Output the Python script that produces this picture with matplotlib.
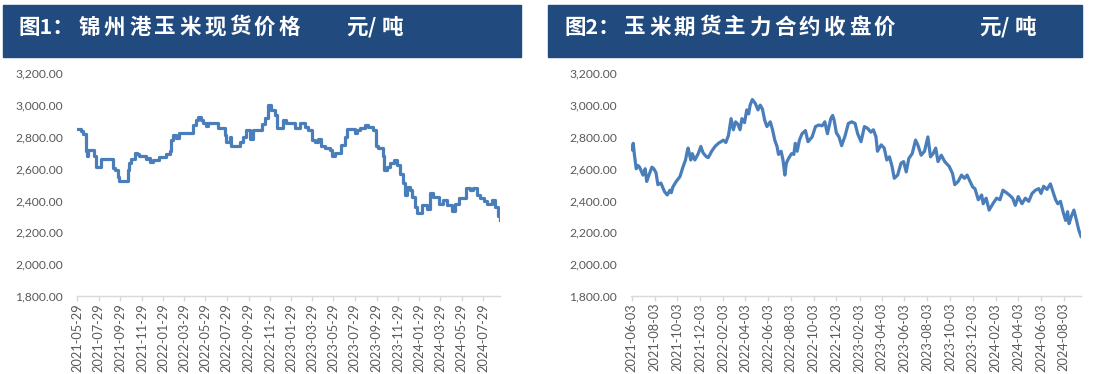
import matplotlib
matplotlib.use("Agg")
import matplotlib.pyplot as plt
import matplotlib.dates as mdates
from matplotlib.patches import Rectangle
from matplotlib.ticker import FuncFormatter, FixedLocator
import pandas as pd

W, H = 1099, 374
NAVY = "#214A7E"
LINE = "#4A7EBB"
GREY = "#595959"
AXIS = "#D9D9D9"

# 图1 锦州港玉米现货价格 (steps: price changes on these dates)
SPOT_DATES = [
    "2021-05-29", "2021-06-09", "2021-06-13", "2021-06-23", "2021-06-25", "2021-06-27",
    "2021-07-16", "2021-07-21", "2021-08-05", "2021-09-07", "2021-09-12", "2021-09-21",
    "2021-09-26", "2021-10-20", "2021-10-24", "2021-10-29", "2021-11-08", "2021-11-16",
    "2021-11-22", "2021-12-11", "2021-12-16", "2021-12-21", "2021-12-30", "2022-01-18",
    "2022-02-06", "2022-02-16", "2022-02-21", "2022-02-25", "2022-03-07", "2022-03-16",
    "2022-04-23", "2022-05-03", "2022-05-08", "2022-05-17", "2022-05-22", "2022-06-01",
    "2022-06-05", "2022-07-04", "2022-07-23", "2022-07-28", "2022-08-06", "2022-08-11",
    "2022-09-04", "2022-09-13", "2022-09-23", "2022-10-02", "2022-10-12", "2022-11-07",
    "2022-11-14", "2022-11-24", "2022-12-03", "2022-12-13", "2022-12-18", "2023-01-06",
    "2023-01-15", "2023-02-08", "2023-02-22", "2023-03-09", "2023-03-18", "2023-03-28",
    "2023-04-06", "2023-04-16", "2023-04-25", "2023-05-05", "2023-05-19", "2023-05-24",
    "2023-06-02", "2023-06-21", "2023-07-01", "2023-07-06", "2023-07-29", "2023-08-03",
    "2023-08-13", "2023-08-27", "2023-09-05", "2023-09-20", "2023-09-27", "2023-10-04",
    "2023-10-18", "2023-10-21", "2023-10-28", "2023-11-06", "2023-11-18", "2023-11-25",
    "2023-12-05", "2023-12-14", "2023-12-19", "2023-12-24", "2024-01-03", "2024-01-07",
    "2024-01-17", "2024-01-23", "2024-02-05", "2024-02-19", "2024-02-27", "2024-03-07",
    "2024-03-26", "2024-04-05", "2024-04-16", "2024-05-01", "2024-05-10", "2024-05-22",
    "2024-06-11", "2024-06-22", "2024-06-30", "2024-07-11", "2024-07-20", "2024-07-30",
    "2024-08-10", "2024-08-23", "2024-09-01", "2024-09-08", "2024-09-15",
]
SPOT_PRICE = [
    2850, 2840, 2820, 2710, 2680, 2720,
    2680, 2610, 2660, 2605, 2590, 2550,
    2525, 2590, 2635, 2660, 2700, 2690,
    2680, 2660, 2670, 2645, 2655, 2675,
    2690, 2710, 2780, 2810, 2795, 2825,
    2875, 2905, 2925, 2905, 2885, 2870,
    2885, 2855, 2810, 2770, 2800, 2740,
    2770, 2800, 2845, 2790, 2845, 2880,
    2920, 3000, 2970, 2935, 2855, 2905,
    2890, 2855, 2885, 2865, 2845, 2780,
    2770, 2790, 2740, 2730, 2720, 2680,
    2700, 2750, 2800, 2850, 2825, 2845,
    2855, 2875, 2865, 2845, 2740, 2730,
    2680, 2590, 2610, 2635, 2655, 2625,
    2570, 2510, 2435, 2485, 2465, 2425,
    2360, 2320, 2370, 2350, 2445, 2425,
    2380, 2405, 2370, 2335, 2380, 2415,
    2480, 2465, 2480, 2435, 2415, 2395,
    2380, 2405, 2360, 2300, 2275,
]

# 图2 玉米期货主力合约收盘价
FUT_DATES = [
    "2021-06-03", "2021-06-07", "2021-06-10", "2021-06-15", "2021-06-20", "2021-06-24",
    "2021-07-03", "2021-07-09", "2021-07-13", "2021-07-19", "2021-07-27", "2021-08-01",
    "2021-08-07", "2021-08-12", "2021-08-20", "2021-08-30", "2021-09-06", "2021-09-13",
    "2021-09-17", "2021-09-21", "2021-09-30", "2021-10-10", "2021-10-18", "2021-10-25",
    "2021-10-30", "2021-11-01", "2021-11-08", "2021-11-12", "2021-11-19", "2021-11-28",
    "2021-12-05", "2021-12-11", "2021-12-20", "2021-12-25", "2022-01-03", "2022-01-12",
    "2022-01-21", "2022-01-28", "2022-02-03", "2022-02-10", "2022-02-17", "2022-02-24",
    "2022-03-02", "2022-03-08", "2022-03-14", "2022-03-20", "2022-03-25", "2022-04-01",
    "2022-04-07", "2022-04-12", "2022-04-16", "2022-04-22", "2022-04-30", "2022-05-07",
    "2022-05-13", "2022-05-19", "2022-05-25", "2022-05-31", "2022-06-09", "2022-06-15",
    "2022-06-21", "2022-06-27", "2022-07-01", "2022-07-08", "2022-07-13", "2022-07-18",
    "2022-07-22", "2022-07-28", "2022-08-05", "2022-08-11", "2022-08-15", "2022-08-20",
    "2022-08-26", "2022-09-02", "2022-09-11", "2022-09-18", "2022-09-29", "2022-10-08",
    "2022-10-17", "2022-10-26", "2022-11-02", "2022-11-09", "2022-11-18", "2022-11-23",
    "2022-11-27", "2022-12-03", "2022-12-10", "2022-12-17", "2022-12-26", "2023-01-04",
    "2023-01-13", "2023-01-22", "2023-01-29", "2023-02-07", "2023-02-16", "2023-02-24",
    "2023-03-05", "2023-03-12", "2023-03-19", "2023-03-23", "2023-04-02", "2023-04-10",
    "2023-04-17", "2023-04-24", "2023-05-01", "2023-05-07", "2023-05-16", "2023-05-25",
    "2023-06-01", "2023-06-08", "2023-06-15", "2023-06-24", "2023-07-03", "2023-07-09",
    "2023-07-18", "2023-07-27", "2023-08-05", "2023-08-12", "2023-08-19", "2023-08-26",
    "2023-09-01", "2023-09-10", "2023-09-19", "2023-10-01", "2023-10-10", "2023-10-16",
    "2023-10-25", "2023-11-03", "2023-11-11", "2023-11-18", "2023-11-26", "2023-12-03",
    "2023-12-09", "2023-12-18", "2023-12-27", "2023-12-31", "2024-01-08", "2024-01-16",
    "2024-01-26", "2024-02-05", "2024-02-14", "2024-02-22", "2024-03-02", "2024-03-10",
    "2024-03-19", "2024-03-26", "2024-04-03", "2024-04-13", "2024-04-22", "2024-05-01",
    "2024-05-10", "2024-05-19", "2024-05-28", "2024-06-03", "2024-06-10", "2024-06-19",
    "2024-06-28", "2024-07-05", "2024-07-12", "2024-07-18", "2024-07-25", "2024-08-02",
    "2024-08-08", "2024-08-13", "2024-08-17", "2024-08-23", "2024-08-30", "2024-09-06",
    "2024-09-12", "2024-09-18",
]
FUT_CLOSE = [
    2720, 2760, 2690, 2600, 2620, 2610,
    2560, 2600, 2520, 2560, 2610, 2600,
    2575, 2500, 2510, 2455, 2435, 2465,
    2450, 2485, 2520, 2550, 2610, 2655,
    2715, 2730, 2655, 2695, 2655, 2695,
    2740, 2700, 2675, 2670, 2710, 2740,
    2760, 2770, 2780, 2765, 2810, 2915,
    2845, 2895, 2880, 2845, 2915, 2890,
    2970, 2945, 3000, 3035, 3010, 2970,
    3000, 2975, 2905, 2865, 2895, 2845,
    2780, 2740, 2690, 2710, 2655, 2560,
    2635, 2665, 2695, 2690, 2760, 2710,
    2780, 2820, 2840, 2770, 2800, 2865,
    2875, 2870, 2895, 2820, 2915, 2935,
    2905, 2825, 2800, 2745, 2805, 2885,
    2895, 2885, 2820, 2770, 2865, 2855,
    2830, 2845, 2800, 2710, 2750, 2730,
    2655, 2675, 2615, 2540, 2560, 2635,
    2645, 2580, 2665, 2695, 2780, 2750,
    2685, 2710, 2800, 2675, 2695, 2730,
    2645, 2685, 2645, 2615, 2570, 2500,
    2520, 2560, 2540, 2560, 2520, 2485,
    2475, 2405, 2435, 2380, 2415, 2340,
    2380, 2415, 2405, 2465, 2450, 2435,
    2415, 2370, 2425, 2380, 2415, 2395,
    2445, 2465, 2475, 2445, 2490, 2470,
    2505, 2455, 2405, 2380, 2395, 2320,
    2275, 2330, 2255, 2300, 2340, 2275,
    2215, 2175,
]

Y_TICKS = [1800, 2000, 2200, 2400, 2600, 2800, 3000, 3200]

fig = plt.figure(figsize=(W / 100, H / 100), dpi=100)
fig.patch.set_facecolor("white")


def px_axes(x0, y0, x1, y1):
    return fig.add_axes([x0 / W, 1 - y1 / H, (x1 - x0) / W, (y1 - y0) / H])


def header(x0, x1, prefix, prefix_x, chars, chars_x, unit_parts):
    fig.patches.append(Rectangle((x0 / W, 1 - 57 / H), (x1 - x0) / W, 52 / H,
                                 transform=fig.transFigure, color=NAVY, zorder=0))
    kw = dict(color="white", fontsize=15.5, fontweight="bold", va="center", ha="left",
              family=["Noto Sans CJK SC", "DejaVu Sans"])
    yc = 1 - 27 / H
    fig.text(prefix_x / W, yc, prefix, **kw)
    for i, ch in enumerate(chars):
        fig.text((chars_x + i * 25) / W, yc, ch, **kw)
    for ch, xp in unit_parts:
        fig.text(xp / W, yc, ch, **kw)


def style(ax, start, end, first_tick):
    ax.set_ylim(1800, 3200)
    ax.set_yticks(Y_TICKS)
    ax.yaxis.set_major_formatter(FuncFormatter(lambda v, p: f"{v:,.2f}"))
    ticks = pd.date_range(first_tick, periods=20, freq=pd.DateOffset(months=2))
    ax.xaxis.set_major_locator(FixedLocator(mdates.date2num(ticks)))
    ax.xaxis.set_major_formatter(mdates.DateFormatter("%Y-%m-%d"))
    ax.set_xlim(pd.Timestamp(start), pd.Timestamp(end))
    for s in ["top", "right", "left"]:
        ax.spines[s].set_visible(False)
    ax.spines["bottom"].set_color(AXIS)
    ax.spines["bottom"].set_linewidth(1.0)
    ax.tick_params(axis="y", length=0, pad=10, labelsize=8.7, labelcolor=GREY)
    ax.tick_params(axis="x", length=3.5, width=1.0, color=AXIS, pad=1.5,
                   labelsize=9.2, labelcolor=GREY, labelrotation=90)
    for lab in ax.get_xticklabels() + ax.get_yticklabels():
        lab.set_family("Lato")


header(3, 521, "图1：", 18, "锦州港玉米现货价格", 79, [("元", 346), ("/", 368), ("吨", 382)])
header(548, 1082, "图2：", 564, "玉米期货主力合约收盘价", 624, [("元", 979), ("/", 1001), ("吨", 1015)])

ax1 = px_axes(77, 73.3, 500, 296)
ax1.plot(pd.to_datetime(SPOT_DATES), SPOT_PRICE, color=LINE, lw=2.3,
         drawstyle="steps-post", solid_joinstyle="round")
style(ax1, "2021-05-28", "2024-09-15", "2021-05-29")

ax2 = px_axes(631, 73.3, 1081, 296)
ax2.plot(pd.to_datetime(FUT_DATES), FUT_CLOSE, color=LINE, lw=2.3,
         solid_joinstyle="round")
style(ax2, "2021-06-01", "2024-09-18", "2021-06-03")

fig.savefig("out.png", dpi=100)
